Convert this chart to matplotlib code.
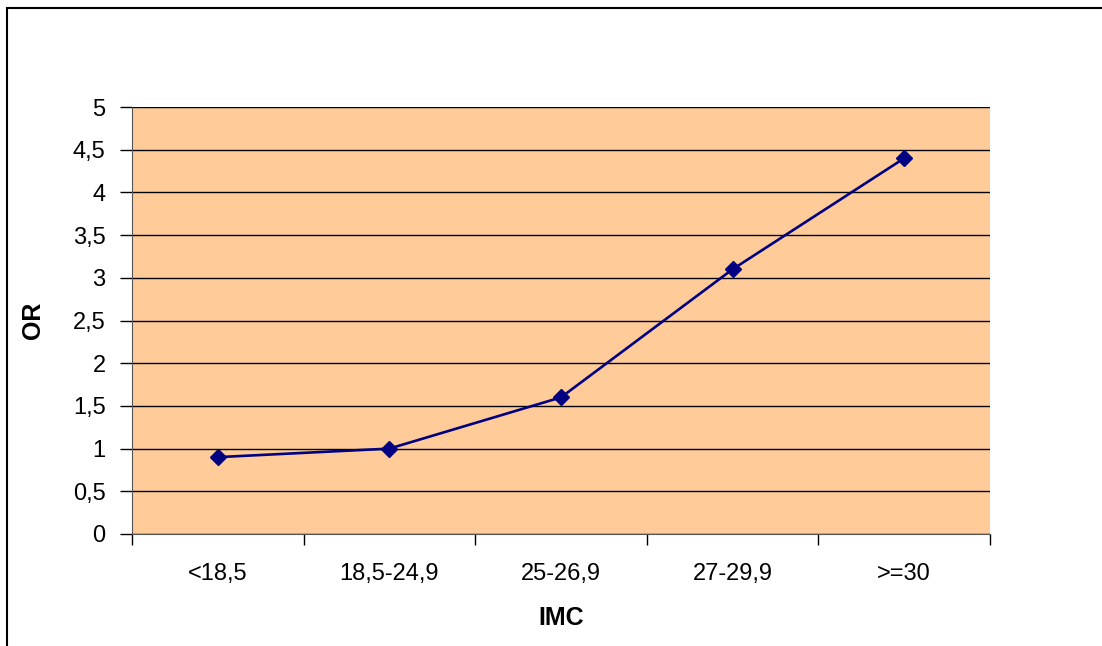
import matplotlib
matplotlib.use("Agg")
import matplotlib.pyplot as plt
from matplotlib.patches import Rectangle
from matplotlib.ticker import FuncFormatter

categories = ["<18,5", "18,5-24,9", "25-26,9", "27-29,9", ">=30"]
or_values = [0.9, 1.0, 1.6, 3.1, 4.4]
y_ticks = [0, 0.5, 1, 1.5, 2, 2.5, 3, 3.5, 4, 4.5, 5]

plt.rcParams['font.family'] = ['Liberation Sans', 'DejaVu Sans']

W, H = 1102, 646
fig = plt.figure(figsize=(W / 100, H / 100), dpi=100)
fig.patch.set_facecolor("white")

# outer frame (left and top edges visible)
fig.patches.append(Rectangle((7 / W, -0.1), 1.2, 1 - 8 / H + 0.1,
                             transform=fig.transFigure, fill=False,
                             edgecolor="black", linewidth=1.5))

left, right, top, bottom = 132, 990, 107, 534
ax = fig.add_axes([left / W, 1 - bottom / H, (right - left) / W, (bottom - top) / H])
ax.set_facecolor("#FFCC99")

x = list(range(len(categories)))
ax.plot(x, or_values, color="#000080", linewidth=1.9, marker="D",
        markersize=8.5, markerfacecolor="#000080", markeredgecolor="#000080",
        zorder=3)

ax.set_xlim(-0.5, len(categories) - 0.5)
ax.set_ylim(0, 5)
ax.set_yticks(y_ticks)
ax.yaxis.set_major_formatter(FuncFormatter(lambda v, p: ("%g" % v).replace(".", ",")))
ax.grid(axis="y", color="black", linewidth=1)
ax.set_axisbelow(True)

ax.set_xticks([i + 0.5 for i in range(-1, len(categories))])
ax.set_xticklabels([])
ax.set_xticks(x, minor=True)
ax.set_xticklabels(categories, minor=True)
ax.tick_params(axis="x", which="major", length=8, width=1, direction="out", color="black")
ax.tick_params(axis="x", which="minor", length=0, pad=21, labelsize=17)
ax.tick_params(axis="y", length=9, width=1, direction="out", color="black",
               labelsize=17, pad=10)

for s in ["top", "right"]:
    ax.spines[s].set_visible(False)
ax.spines["left"].set_color("#555555")
ax.spines["bottom"].set_color("#555555")

ax.set_xlabel("IMC", fontsize=18, fontweight="bold", labelpad=15)
ax.set_ylabel("OR", fontsize=18, fontweight="bold", labelpad=20)

fig.savefig("out.png", dpi=100)
